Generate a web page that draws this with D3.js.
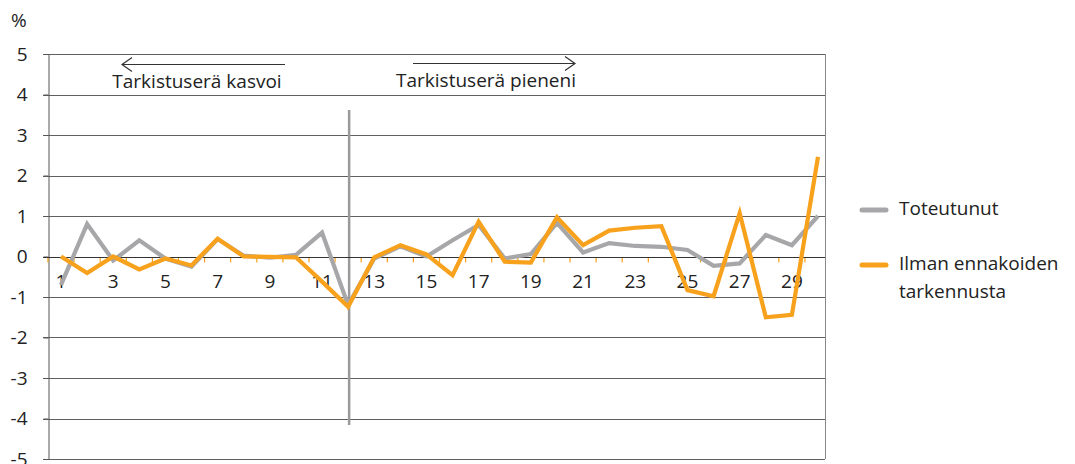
<!DOCTYPE html>
<html>
<head>
<meta charset="utf-8">
<script src="https://cdn.jsdelivr.net/npm/d3@7"></script>
<style>
  body { margin: 0; background: #fff; }
  text { font-family: "Open Sans", sans-serif; fill: #222; }
</style>
</head>
<body>
<svg width="1075" height="464"></svg>
<script>
var categories = d3.range(1, 31);
var tickLabels = [1, 3, 5, 7, 9, 11, 13, 15, 17, 19, 21, 23, 25, 27, 29];
var yTicks = [5, 4, 3, 2, 1, 0, -1, -2, -3, -4, -5];
var toteutunut = [-0.7, 0.8, -0.1, 0.4, -0.05, -0.25, 0.43, 0.02, -0.03, 0.04, 0.59, -1.2,
    -0.05, 0.25, 0.0, 0.4, 0.78, -0.05, 0.06, 0.83, 0.1, 0.33, 0.26, 0.24, 0.16, -0.23, -0.17, 0.53, 0.28, 1.0];
var ilmanEnnakoiden = [0.0, -0.41, 0.0, -0.32, -0.05, -0.22, 0.44, 0.0, -0.01, -0.02, -0.62, -1.24,
    -0.02, 0.28, 0.05, -0.46, 0.86, -0.13, -0.15, 0.97, 0.28, 0.64, 0.71, 0.75, -0.83, -0.98, 1.07, -1.5, -1.44, 2.46];
var legendLabels = [["Toteutunut"], ["Ilman ennakoiden", "tarkennusta"]];
var colors = ["#a7a7a9", "#f7a11c"];

var svg = d3.select("svg");
var plotLeft = 48, plotRight = 825, plotTop = 54, plotBottom = 459;
var fontSize = 19;

var x = d3.scalePoint().domain(categories).range([61, 818]);
var y = d3.scaleLinear().domain([-5, 5]).range([plotBottom, plotTop]);
var step = x.step();

// gridlines
svg.append("g")
    .selectAll("line")
    .data(yTicks.filter(function (d) { return d != 0; }))
    .enter().append("line")
    .attr("x1", plotLeft - 5).attr("x2", plotRight)
    .attr("y1", function (d) { return Math.round(y(d)) + 0.5; })
    .attr("y2", function (d) { return Math.round(y(d)) + 0.5; })
    .attr("stroke", "#606060");

// y axis (plain hyphen for negatives, like the original)
var yAxis = svg.append("g")
    .attr("transform", "translate(" + (plotLeft + 0.5) + ",0)")
    .call(d3.axisLeft(y).tickValues(yTicks).tickSize(5).tickPadding(16).tickFormat(function (d) { return String(d); }));
yAxis.select(".domain").attr("stroke", "#555");
yAxis.selectAll(".tick line").attr("stroke", "#555");
yAxis.selectAll("text").attr("font-size", fontSize).attr("fill", "#222").attr("font-family", "'Open Sans', sans-serif");

// right border
svg.append("line")
    .attr("x1", plotRight + 0.5).attr("x2", plotRight + 0.5)
    .attr("y1", plotTop).attr("y2", plotBottom)
    .attr("stroke", "#888");

svg.append("text").attr("x", 11).attr("y", 27).attr("font-size", fontSize).text("%");

// divider
svg.append("line")
    .attr("x1", x(12) + 1).attr("x2", x(12) + 1)
    .attr("y1", 110).attr("y2", 425)
    .attr("stroke", "#9a9a9c").attr("stroke-width", 2.5);

// zero line and orange category ticks
var y0 = Math.round(y(0)) + 0.5;
svg.append("g")
    .selectAll("line")
    .data(categories)
    .enter().append("line")
    .attr("x1", function (d) { return x(d) - step / 2; })
    .attr("x2", function (d) { return x(d) - step / 2; })
    .attr("y1", y0).attr("y2", y0 + 5)
    .attr("stroke", colors[1]).attr("stroke-width", 1.2);
svg.append("line")
    .attr("x1", plotLeft - 5).attr("x2", plotRight)
    .attr("y1", y0).attr("y2", y0)
    .attr("stroke", "#333");

// x labels
svg.append("g")
    .selectAll("text")
    .data(tickLabels)
    .enter().append("text")
    .attr("x", function (d) { return x(d); })
    .attr("y", 288)
    .attr("text-anchor", "middle")
    .attr("font-size", fontSize)
    .text(function (d) { return d; });

// lines
var line = d3.line()
    .x(function (d, i) { return x(categories[i]); })
    .y(function (d) { return y(d); });

[toteutunut, ilmanEnnakoiden].forEach(function (s, i) {
    svg.append("path")
        .datum(s)
        .attr("d", line)
        .attr("fill", "none")
        .attr("stroke", colors[i])
        .attr("stroke-width", 4.2)
        .attr("stroke-linejoin", "miter");
});

// annotations
function arrow(x1, x2, yy, dir) {
    svg.append("line").attr("x1", x1).attr("x2", x2).attr("y1", yy).attr("y2", yy)
        .attr("stroke", "#333").attr("stroke-width", 1.2);
    var tip = dir < 0 ? x1 : x2;
    svg.append("path")
        .attr("d", "M" + (tip - dir * 10) + "," + (yy - 7) + "L" + tip + "," + yy + "L" + (tip - dir * 10) + "," + (yy + 7))
        .attr("fill", "none").attr("stroke", "#333").attr("stroke-width", 1.2);
}
arrow(122, 285, 64.5, -1);
arrow(413, 575, 63.5, 1);
svg.append("text").attr("x", 197).attr("y", 88).attr("text-anchor", "middle").attr("font-size", fontSize).text("Tarkistuserä kasvoi");
svg.append("text").attr("x", 486).attr("y", 87).attr("text-anchor", "middle").attr("font-size", fontSize).text("Tarkistuserä pieneni");

// legend
var legendY = [210, 265];
legendLabels.forEach(function (lines, i) {
    svg.append("line")
        .attr("x1", 862).attr("x2", 886)
        .attr("y1", legendY[i]).attr("y2", legendY[i])
        .attr("stroke", colors[i]).attr("stroke-width", 5).attr("stroke-linecap", "round");
    lines.forEach(function (t, j) {
        svg.append("text")
            .attr("x", 899)
            .attr("y", legendY[i] + 5 + j * 28)
            .attr("font-size", fontSize)
            .text(t);
    });
});
</script>
</body>
</html>
